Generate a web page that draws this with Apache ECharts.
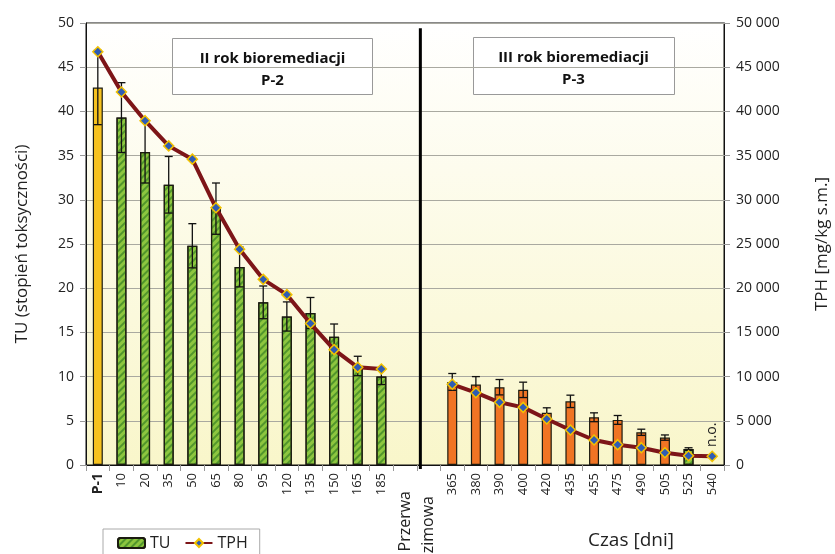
<!DOCTYPE html>
<html><head><meta charset="utf-8">
<script src="https://cdn.jsdelivr.net/npm/echarts@6/dist/echarts.min.js"></script>
<style>html,body{margin:0;padding:0;background:#fff}#c{width:835px;height:554px}</style>
</head><body><div id="c"></div>
<script>
const categories = ['P-1','10','20','35','50','65','80','95','120','135','150','165','185','Przerwa','zimowa','365','380','390','400','420','435','455','475','490','505','525','540'];
const tu    = [42.7,39.3,35.4,31.7,24.8,29.0,22.4,18.4,16.8,17.2,14.5,11.2,10.0,null,null,9.4,9.1,8.8,8.5,5.9,7.2,5.4,5.1,3.7,3.1,1.8,null];
const tuErr = [4.2,3.95,3.5,3.2,2.5,2.9,2.25,1.85,1.65,1.75,1.45,1.1,0.9,null,null,0.95,0.9,0.87,0.87,0.57,0.7,0.5,0.5,0.35,0.3,0.15,null];
const tph   = [46750,42200,38950,36100,34600,29100,24400,21000,19270,16000,13050,11050,10860,null,null,9130,8180,7090,6520,5200,3960,2830,2300,1960,1390,1050,980];
const notObserved = '540';
const breakPos = 14.15; // boundary between "Przerwa" and "zimowa" categories
const leftTicks = {min:0, max:50, interval:5};
const rightTicks = {min:0, max:50000, interval:5000};

const FONT = "'Open Sans', 'DejaVu Sans', sans-serif";
const pick = (cond) => tu.map((v,i) => cond(i) ? v : null);
const tuP1 = pick(i => i === 0);
const tuGreen = pick(i => (i >= 1 && i <= 12) || i === 25);
const tuOrange = pick(i => i >= 15 && i <= 24);
const noIdx = categories.indexOf(notObserved);
const naData = categories.map((c,i) => i === noIdx ? {value:0, itemStyle:{color:'transparent', borderWidth:0}, label:{show:true}} : null);
const errData = tu.map((v,i) => v == null ? null : [i, v - tuErr[i], v + tuErr[i]]).filter(Boolean);

const barBorder = {borderColor:'#1b1b10', borderWidth:1.2};
const greenDecal = {symbol:'rect', color:'rgba(55,130,35,0.7)', dashArrayX:[1,0], dashArrayY:[2,3], rotation:-Math.PI/4, symbolSize:1};

const chart = echarts.init(document.getElementById('c'), null, {renderer:'canvas'});
chart.setOption({
  animation:false,
  textStyle:{fontFamily:FONT},
  grid:{left:86, right:111, top:23, bottom:89, show:true, borderColor:'#111', borderWidth:1,
    containLabel:false, outerBoundsMode:'none',
    backgroundColor: new echarts.graphic.LinearGradient(0,0,0,1,[{offset:0,color:'#FFFFFF'},{offset:1,color:'#F9F6CA'}])},
  legend:{data:['TU','TPH'], left:103, top:529, padding:[6,12,10,14], borderColor:'#aaa', borderWidth:1, itemWidth:27, itemHeight:10, itemGap:14,
    textStyle:{fontSize:16, color:'#222', fontFamily:FONT}},
  xAxis:[{
    type:'category', data:categories.map((c,i)=> {
      if (c === 'P-1') return {value:c, textStyle:{fontWeight:'bold', fontSize:14}};
      if (c === 'Przerwa') return {value:c, textStyle:{padding:[0,18,0,0], fontSize:16}};
      if (c === 'zimowa') return {value:c, textStyle:{padding:[0,23,0,0], fontSize:16}};
      return c;
    }),
    axisLine:{lineStyle:{color:'#111', width:1}},
    axisTick:{show:true, length:6, lineStyle:{color:'#999'}},
    axisLabel:{rotate:90, interval:0, fontSize:13, color:'#222', margin:8, fontFamily:FONT},
    splitLine:{show:false}
  },{
    type:'value', min:0, max:categories.length, show:false, gridIndex:0
  }],
  yAxis:[{
    type:'value', ...leftTicks, position:'left',
    name:'TU (stopień toksyczności)', nameLocation:'middle', nameGap:55, nameRotate:90,
    nameTextStyle:{fontSize:17, color:'#222', fontFamily:FONT},
    axisLine:{show:true, lineStyle:{color:'#111'}},
    axisTick:{show:true, length:6, lineStyle:{color:'#999'}},
    axisLabel:{fontSize:14, color:'#222', margin:12, fontFamily:FONT},
    splitLine:{show:true, lineStyle:{color:'#a9a9a0', width:1}}
  },{
    type:'value', ...rightTicks, position:'right',
    name:'TPH [mg/kg s.m.]', nameLocation:'middle', nameGap:90, nameRotate:90,
    nameTextStyle:{fontSize:17, color:'#222', fontFamily:FONT},
    axisLine:{show:true, lineStyle:{color:'#111'}},
    axisTick:{show:true, length:6, lineStyle:{color:'#999'}},
    axisLabel:{fontSize:14, color:'#222', margin:12, fontFamily:FONT,
      formatter:v => v === 0 ? '0' : (v/1000) + ' 000'},
    splitLine:{show:false}
  }],
  series:[
    {name:'TU', type:'bar', data:tuGreen, barWidth:10, barGap:'-100%', z:2,
      itemStyle:{color:'#8DC63F', decal:greenDecal, ...barBorder}},
    {name:'TU-P1', type:'bar', data:tuP1, barWidth:10, barGap:'-100%', z:2,
      itemStyle:{color:'#F6C21E', ...barBorder}},
    {name:'TU-P3', type:'bar', data:tuOrange, barWidth:10, barGap:'-100%', z:2,
      itemStyle:{color:'#F07424', ...barBorder}},
    {name:'n.o.', type:'bar', data:naData, barWidth:10, barGap:'-100%', z:2,
      label:{show:false, formatter:'n.o.', position:'top', rotate:90, align:'left', verticalAlign:'middle', distance:18, fontSize:14, color:'#222', fontFamily:FONT}},
    {name:'err', type:'custom', z:3, data:errData, silent:true,
      renderItem:(params, api) => {
        const lo = api.coord([api.value(0), api.value(1)]);
        const hi = api.coord([api.value(0), api.value(2)]);
        const w = 4, st = {stroke:'#111', lineWidth:1.3};
        return {type:'group', children:[
          {type:'line', shape:{x1:lo[0], y1:lo[1], x2:hi[0], y2:hi[1]}, style:st},
          {type:'line', shape:{x1:lo[0]-w, y1:lo[1], x2:lo[0]+w, y2:lo[1]}, style:st},
          {type:'line', shape:{x1:hi[0]-w, y1:hi[1], x2:hi[0]+w, y2:hi[1]}, style:st}
        ]};
      }},
    {name:'TPH', type:'line', yAxisIndex:1, data:tph, z:5, connectNulls:false,
      symbol:'diamond', symbolSize:10, showAllSymbol:true,
      lineStyle:{color:'#7D1518', width:4},
      itemStyle:{color:'#2F5CB4', borderColor:'#F2C200', borderWidth:1.5}},
    {name:'break', type:'line', xAxisIndex:1, yAxisIndex:0, z:6, silent:true, clip:false,
      data:[[breakPos, -0.45], [breakPos, 49.4]], symbol:'none',
      lineStyle:{color:'#000', width:3}}
  ],
  graphic:[
    {type:'group', left:172, top:38, children:[
      {type:'rect', shape:{x:0, y:0, width:200, height:56}, style:{fill:'#fff', stroke:'#999', lineWidth:1}},
      {type:'text', x:100, y:31, style:{text:'II rok bioremediacji\nP-2', fill:'#111', font:"bold 15px " + FONT, textAlign:'center', textVerticalAlign:'middle', lineHeight:22}}
    ]},
    {type:'group', left:473, top:37, children:[
      {type:'rect', shape:{x:0, y:0, width:201, height:57}, style:{fill:'#fff', stroke:'#999', lineWidth:1}},
      {type:'text', x:100, y:31, style:{text:'III rok bioremediacji\nP-3', fill:'#111', font:"bold 15px " + FONT, textAlign:'center', textVerticalAlign:'middle', lineHeight:22}}
    ]},
    {type:'text', left:588, top:531, style:{text:'Czas [dni]', fill:'#222', font:"19px " + FONT}}
  ]
});
</script></body></html>
